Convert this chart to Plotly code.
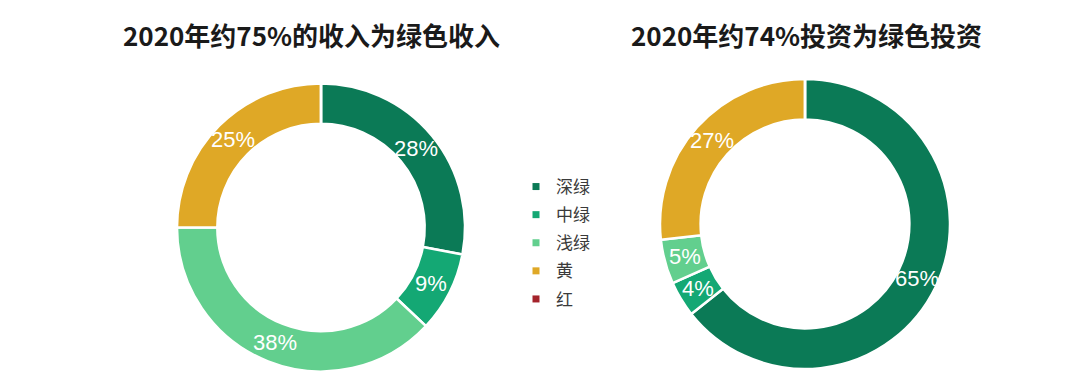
import math
import plotly.graph_objects as go

categories = ["深绿", "中绿", "浅绿", "黄", "红"]
revenue_values = [28, 9, 38, 25, 0]
investment_values = [65, 4, 5, 27, 0]
colors = ["#0b7a56", "#14a874", "#62cf8e", "#dfa826", "#a4232b"]
titles = ["2020年约75%的收入为绿色收入", "2020年约74%投资为绿色投资"]

W, H = 1090, 384
OFF = 8  # page body margin
HOLE = 0.72

def px_x(p):
    return (p - OFF) / W

def px_y(p):
    return 1 - (p - OFF) / H

domains = [
    dict(x=[px_x(177), px_x(465)], y=[px_y(372), px_y(83)]),
    dict(x=[px_x(660), px_x(950)], y=[px_y(369), px_y(79)]),
]

fig = go.Figure()

for values, dom in zip([revenue_values, investment_values], domains):
    fig.add_trace(go.Pie(
        labels=categories,
        values=values,
        textinfo="none",
        marker=dict(colors=colors, line=dict(color="white", width=2.5)),
        hole=HOLE,
        sort=False,
        direction="clockwise",
        rotation=0,
        domain=dom,
        showlegend=False,
        hoverinfo="label+value",
    ))
    # labels at slice centroids (mid-angle, mid-radius), derived from the data
    total = sum(values)
    cx_px = (dom["x"][0] + dom["x"][1]) / 2 * W
    cy_px = (1 - (dom["y"][0] + dom["y"][1]) / 2) * H
    R = min((dom["x"][1] - dom["x"][0]) * W, (dom["y"][1] - dom["y"][0]) * H) / 2
    rmid = R * (1 + HOLE) / 2
    cum = 0
    for v in values:
        if v > 0:
            ang = 2 * math.pi * (cum + v / 2) / total
            x = cx_px + rmid * math.sin(ang)
            y = cy_px - rmid * math.cos(ang)
            fig.add_annotation(
                text=f"{v}%", x=x / W, y=1 - y / H, xref="paper", yref="paper",
                xanchor="center", yanchor="middle", showarrow=False,
                font=dict(color="white", size=22, family="Liberation Sans, Arial"),
            )
        cum += v

for i, (cat, col) in enumerate(zip(categories, colors)):
    fig.add_trace(go.Scatter(
        x=[None], y=[None], mode="markers", name=cat,
        marker=dict(symbol="square", size=7, color=col),
        legendgroup=f"g{i}", showlegend=True,
    ))

for t, xc in zip(titles, [311, 806]):
    fig.add_annotation(text=f"<b>{t}</b>", x=px_x(xc), y=px_y(34), xref="paper", yref="paper",
                       xanchor="center", yanchor="middle", showarrow=False,
                       font=dict(size=26, color="#1a1a1a", family="Noto Sans CJK SC"))

fig.update_layout(
    width=W, height=H,
    margin=dict(l=0, r=0, t=0, b=0),
    paper_bgcolor="white", plot_bgcolor="white",
    xaxis=dict(visible=False), yaxis=dict(visible=False),
    legend=dict(
        x=px_x(516), y=px_y(169), xanchor="left", yanchor="top",
        font=dict(size=17, color="#3a3a3a", family="Noto Sans CJK SC"),
        tracegroupgap=3, itemwidth=30, bgcolor="rgba(0,0,0,0)",
    ),
)

fig.write_html("out.html")
